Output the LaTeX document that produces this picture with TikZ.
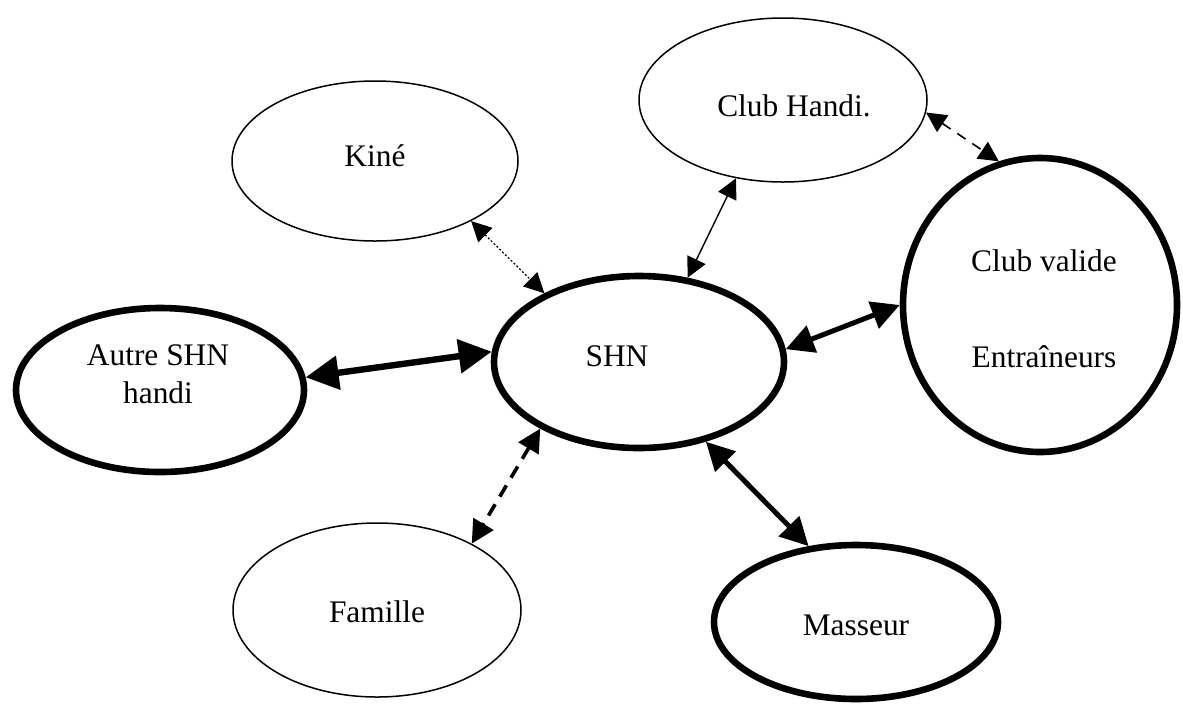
\documentclass[tikz,border=0pt]{standalone}
\usepackage{fontspec}
\setmainfont{Liberation Serif}
\usetikzlibrary{arrows.meta,shapes.geometric}
\begin{document}
\begin{tikzpicture}[x=.5pt,y=-.5pt,line cap=butt,line join=miter,font=\fontsize{15.7}{18.8}\selectfont]
	\tikzset{ell/.style={draw,ellipse,inner sep=0pt},
		thin ell/.style={ell,line width=.75pt},
		thick ell/.style={ell,line width=3.3pt},
		lbl/.style={inner sep=0pt,align=center},
		link/.style={{Triangle[length=#1,width=#1]}-{Triangle[length=#1,width=#1]}}
	}
	\useasboundingbox (0,0) rectangle (1183,708);
	\node[thin ell,minimum width=143pt,minimum height=80pt] (kine) at (375,161) {};
	\node[thin ell,minimum width=144pt,minimum height=82pt] (clubh) at (783,100) {};
	\node[thick ell,minimum width=137pt,minimum height=147pt] (clubv) at (1040,305) {};
	\node[thick ell,minimum width=145pt,minimum height=86pt] (shn) at (639,362) {};
	\node[thick ell,minimum width=144pt,minimum height=82pt] (autre) at (160,390) {};
	\node[thin ell,minimum width=144pt,minimum height=87pt] (famille) at (377,610) {};
	\node[thick ell,minimum width=142pt,minimum height=77pt] (masseur) at (856,622) {};
	\node[lbl] (kinelbl) at (375,156) {Kiné};
	\node[lbl] (clubhlbl) at (794,106) {Club Handi.};
	\node[lbl] (clubvlbl) at (1044,309) {Club valide\\[29pt]Entraîneurs};
	\node[lbl] (shnlbl) at (617,356) {SHN};
	\node[lbl] (autrelbl) at (158,374) {Autre SHN\\handi};
	\node[lbl] (famillelbl) at (377,612) {Famille};
	\node[lbl] (masseurlbl) at (856,625) {Masseur};
	\draw[link=10pt,line width=.6pt,dash pattern=on 1pt off 1pt] (kine.-32) -- (shn.144);
	\draw[link=10pt,line width=.7pt] (clubh.239) -- (shn.60);
	\draw[link=10pt,line width=.8pt,dash pattern=on 5pt off 4pt] (clubh.-5) -- (clubv.106);
	\draw[link=14pt,line width=2.5pt] (shn.5) -- (clubv.180);
	\draw[link=16.5pt,line width=3.2pt] (autre.5) -- (shn.176);
	\draw[link=11.5pt,line width=1.8pt,dash pattern=on 6.5pt off 4.5pt] (shn.214) -- (famille.35);
	\draw[link=14pt,line width=2.5pt] (shn.-50) -- (masseur.122);
\end{tikzpicture}
\end{document}
